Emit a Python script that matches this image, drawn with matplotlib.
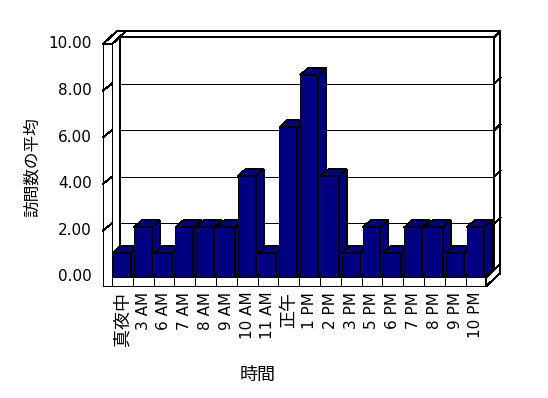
import matplotlib
matplotlib.use("Agg")
import matplotlib.pyplot as plt
from matplotlib.patches import Polygon

plt.rcParams['font.family'] = ['DejaVu Sans', 'Noto Sans CJK JP']

# data
hours = ["真夜中", "3 AM", "6 AM", "7 AM", "8 AM", "9 AM", "10 AM", "11 AM", "正午",
         "1 PM", "2 PM", "3 PM", "5 PM", "6 PM", "7 PM", "8 PM", "9 PM", "10 PM"]
visits = [1.04, 2.13, 1.04, 2.13, 2.13, 2.13, 4.33, 1.04, 6.43,
          8.67, 4.33, 1.04, 2.13, 1.04, 2.13, 2.13, 1.04, 2.13]
y_ticks = [0, 2, 4, 6, 8, 10]
x_title = "時間"
y_title = "訪問数の平均"

NAVY = "#000080"
LW = 0.72                 # one pixel at 100 dpi
# oblique 3d look (in data units)
dx, dy = 0.385, 0.30      # chart depth
tx, ty = 0.29, 0.26       # back wall thickness
lw_ = 0.43                # left wall thickness
fh = 0.386                # floor thickness
bar_l, bar_r = 0.05, 0.90

fig = plt.figure(figsize=(5.48, 3.98), dpi=100)
ax = fig.add_axes([0.1664, 0.2455, 0.7781, 0.7025])
ax.set_xlim(-1, 19.5)
ax.set_ylim(-1, 11)
ax.axis('off')

n = len(hours)
top = y_ticks[-1]

def poly(pts, fc, z):
    ax.add_patch(Polygon(pts, closed=True, facecolor=fc, edgecolor='black',
                         linewidth=LW, zorder=z, joinstyle='miter', antialiased=False))

def seg(xs, ys, z):
    ax.plot(xs, ys, color='black', lw=LW, zorder=z, antialiased=False)

# walls and floor
poly([(dx, dy), (n + dx, dy), (n + dx, top + dy), (dx, top + dy)], 'white', 1)
poly([(0, 0), (dx, dy), (dx, top + dy), (0, top)], 'white', 1)
poly([(0, 0), (n, 0), (n + dx, dy), (dx, dy)], 'white', 1)
poly([(dx, top + dy), (n + dx, top + dy), (n + dx + tx, top + dy + ty), (dx + tx, top + dy + ty)], 'white', 2)
poly([(-lw_, top), (0, top), (dx + tx, top + dy + ty), (-lw_ + dx + tx, top + dy + ty)], 'white', 2)
poly([(n + dx, dy), (n + dx, top + dy), (n + dx + tx, top + dy + ty), (n + dx + tx, dy + ty)], 'white', 2)

for v in y_ticks[1:-1]:
    seg([dx, n + dx], [v + dy, v + dy], 2)
    seg([n + dx, n + dx + tx], [v + dy, v + dy + ty], 2)

# bars
for i, v in enumerate(visits):
    x0, x1 = i + bar_l, i + bar_r
    z = 10 + i
    poly([(x0, 0), (x1, 0), (x1, v), (x0, v)], NAVY, z)
    poly([(x1, 0), (x1 + dx, dy), (x1 + dx, v + dy), (x1, v)], NAVY, z)
    poly([(x0, v), (x1, v), (x1 + dx, v + dy), (x0 + dx, v + dy)], NAVY, z)

# floor front and right face, left wall front
poly([(0, -fh), (n, -fh), (n, 0), (0, 0)], 'white', 40)
for i in range(1, n):
    seg([i, i], [-fh, 0], 41)
poly([(n, -fh), (n, 0), (n + dx + tx, dy + ty), (n + dx + tx, -fh + dy + ty)], 'white', 40)
poly([(-lw_, -fh), (0, -fh), (0, top), (-lw_, top)], 'white', 40)
for v in y_ticks[1:-1]:
    seg([-lw_, 0], [v, v + dy], 41)

# labels
for v in y_ticks:
    ax.text(-0.96, v, "%.2f" % v, ha='right', va='center', fontsize=11)
for i, h in enumerate(hours):
    fs = 11 if h.isascii() else 13
    ax.text(i + 0.5, -fh - 0.25, h, rotation=90, ha='center', va='top', fontsize=fs)
ax.text(7.0, -4.2, x_title, ha='center', va='center', fontsize=13, clip_on=False)
ax.text(-3.85, 4.72, y_title, rotation=90, ha='center', va='center', fontsize=12, clip_on=False)

fig.savefig("out.png", dpi=100)
